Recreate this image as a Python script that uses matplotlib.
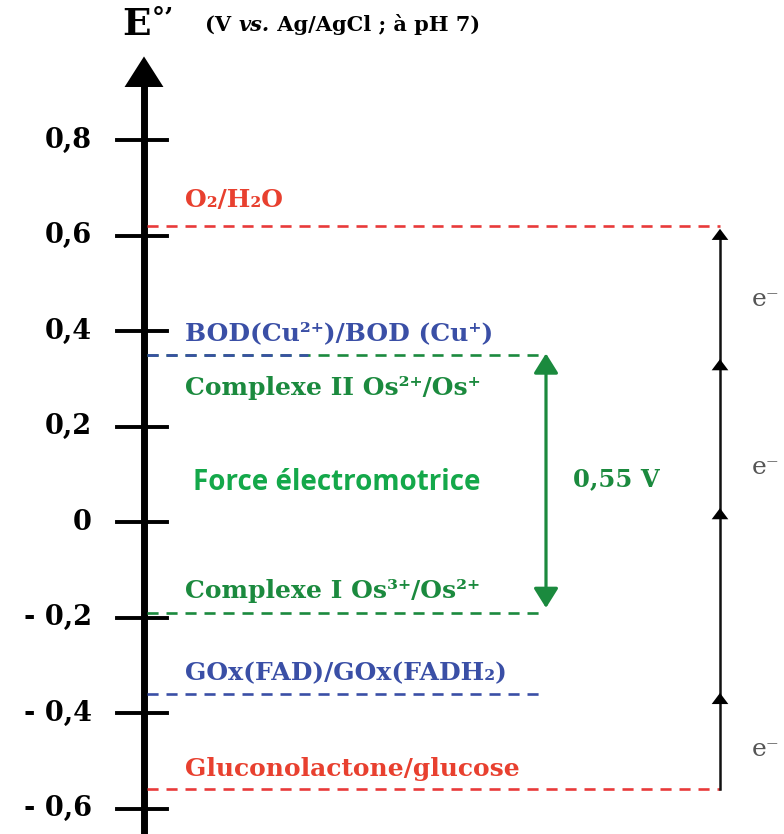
"""Redox potential diagram of a glucose/O2 biofuel cell (E°' vs Ag/AgCl, pH 7)."""

import matplotlib
matplotlib.use("Agg")
import matplotlib.pyplot as plt

# --- data -------------------------------------------------------------------
couples = [
    "O₂/H₂O",
    "BOD(Cu²⁺)/BOD (Cu⁺)",
    "Complexe II Os²⁺/Os⁺",
    "Complexe I Os³⁺/Os²⁺",
    "GOx(FAD)/GOx(FADH₂)",
    "Gluconolactone/glucose",
]
potentials = [0.62, 0.35, 0.35, -0.19, -0.36, -0.56]
couple_colors = ["#e8402f", "#3a4fa6", "#1b8a3e", "#1b8a3e", "#3a4fa6", "#e8402f"]

tick_values = [0.8, 0.6, 0.4, 0.2, 0.0, -0.2, -0.4, -0.6]
tick_labels = ["0,8", "0,6", "0,4", "0,2", "0", "- 0,2", "- 0,4", "- 0,6"]

emf_top = 0.35
emf_bottom = -0.19
emf_label = "0,55 V"

electron_arrow_tips = [0.341, 0.029, -0.358]
electron_label_y = [0.465, 0.115, -0.477]

# --- layout (pixel-like x units, volts on y) --------------------------------
PX_PER_V = 477.5
Y0_PX = 522
AXIS_X = 144
LABEL_X = 185
line_ends = [720, 308, 545, 540, 540, 720]
label_shift = [0.055, 0.046, -0.069, 0.045, 0.044, 0.043]
draw_order = [0, 2, 1, 3, 4, 5]

SERIF = ["DejaVu Serif"]
GREEN = "#1b8a3e"

fig = plt.figure(figsize=(7.84, 8.34), dpi=100)
ax = fig.add_axes([0, 0, 1, 1])
ax.set_xlim(0, 784)
ax.set_ylim((Y0_PX - 834) / PX_PER_V, Y0_PX / PX_PER_V)
ax.axis("off")
y_bottom = (Y0_PX - 834) / PX_PER_V

# main potential axis with arrow head
ax.plot([AXIS_X, AXIS_X], [y_bottom, 0.93], color="black", lw=5, solid_capstyle="butt")
ax.annotate("", xy=(AXIS_X, 0.975), xytext=(AXIS_X, 0.90),
            arrowprops=dict(arrowstyle="-|>,head_length=22,head_width=14",
                            mutation_scale=1, lw=0, color="black",
                            shrinkA=0, shrinkB=0))

for v, lab in zip(tick_values, tick_labels):
    ax.plot([117, 167], [v, v], color="black", lw=2.8)
    ax.text(92, v, lab, ha="right", va="center", fontsize=19.5,
            fontweight="bold", family=SERIF)

# title
t_e = ax.text(122, 1.020, "E", fontsize=27, fontweight="bold", family=SERIF,
              va="baseline", ha="left")
ax.annotate("°’", xy=(1.05, 1.0), xycoords=t_e, va="top", ha="left",
            fontsize=19, fontweight="bold", family=SERIF)
t1 = ax.text(205, 1.028, "(V ", fontsize=15, fontweight="bold", family=SERIF,
             va="baseline", ha="left")
t2 = ax.annotate("vs.", xy=(1, 0), xycoords=t1, va="bottom", ha="left",
                 fontsize=15, fontweight="bold", fontstyle="italic", family=SERIF)
ax.annotate(" Ag/AgCl ; à pH 7)", xy=(1, 0), xycoords=t2, va="bottom", ha="left",
            fontsize=15, fontweight="bold", family=SERIF)

# redox couple levels
for i in draw_order:
    p = potentials[i]
    dash_col = {"#e8402f": "#e83a3a"}.get(couple_colors[i], couple_colors[i])
    ax.plot([AXIS_X + 3, line_ends[i]], [p, p], color=dash_col, lw=1.9,
            linestyle=(0, (4.2, 3.0)))
    ax.text(LABEL_X, p + label_shift[i], couples[i], color=couple_colors[i],
            fontsize=18, fontweight="bold", family=SERIF, va="center", ha="left")

# electromotive force arrow
ax.annotate("", xy=(546, emf_top + 0.003), xytext=(546, emf_bottom + 0.01),
            arrowprops=dict(arrowstyle="<|-|>,head_length=12,head_width=7.5",
                            mutation_scale=1, lw=2.3, color=GREEN,
                            shrinkA=0, shrinkB=0))
ax.text(573, (emf_top + emf_bottom) / 2 + 0.01, emf_label, color=GREEN,
        fontsize=17.5, fontweight="bold", family=SERIF, va="center", ha="left")
ax.text(193, 0.082, "Force électromotrice", color="#14a84a", fontsize=20,
        fontweight="bold", family=["Open Sans", "DejaVu Sans"], va="center", ha="left")

# electron flow line on the right
ax.plot([720, 720], [potentials[-1], potentials[0] - 0.02], color="#111111", lw=1.8)
for tip in [potentials[0] - 0.006] + electron_arrow_tips:
    ax.annotate("", xy=(720, tip), xytext=(720, tip - 0.03),
                arrowprops=dict(arrowstyle="-|>,head_length=8,head_width=6",
                                mutation_scale=1, lw=0, color="black",
                                shrinkA=0, shrinkB=0))
for ly in electron_label_y:
    ax.text(752, ly, "e⁻", fontsize=18, color="#555555", family=SERIF,
            va="center", ha="left")

fig.savefig("out.png", dpi=100)
